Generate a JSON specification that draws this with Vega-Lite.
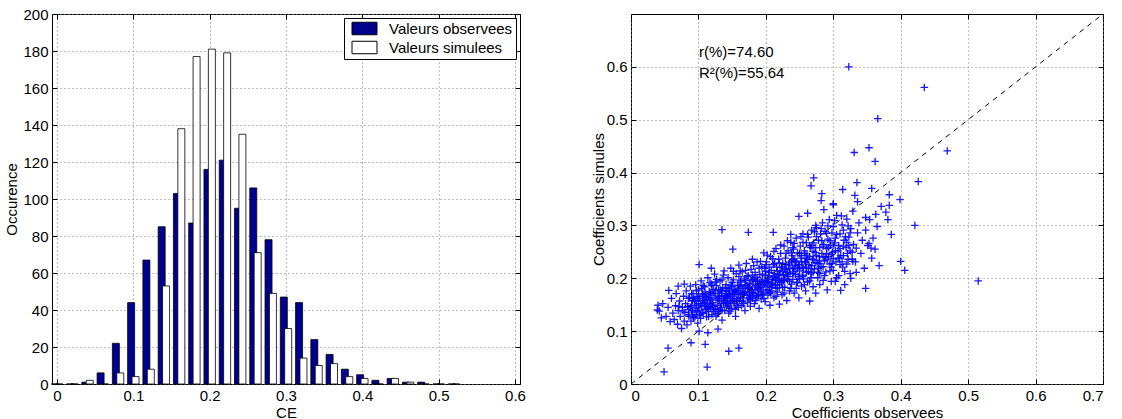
{
"$schema":"https://vega.github.io/schema/vega-lite/v6.json",
"padding":{"left":4,"top":6,"right":0,"bottom":0},
"autosize":{"type":"pad"},
"background":"white",
"spacing":64,
"config":{
"font":"Liberation Sans",
"view":{"stroke":"black","strokeWidth":1},
"axis":{"labelFontSize":15,"titleFontSize":15,"titleFontWeight":"normal","labelColor":"black","titleColor":"black","domain":false,"tickColor":"black","tickSize":-5,"gridColor":"#808080","gridDash":[1,3],"gridOpacity":1,"labelFont":"Liberation Sans","titleFont":"Liberation Sans"},
"axisX":{"labelPadding":9,"titlePadding":2},
"axisY":{"labelPadding":9,"titlePadding":3}
},
"datasets":{
"hist":[
{"ce":0.00,"serie":"Valeurs observees","count":0},{"ce":0.00,"serie":"Valeurs simulees","count":0},
{"ce":0.02,"serie":"Valeurs observees","count":0},{"ce":0.02,"serie":"Valeurs simulees","count":0},
{"ce":0.04,"serie":"Valeurs observees","count":1},{"ce":0.04,"serie":"Valeurs simulees","count":2},
{"ce":0.06,"serie":"Valeurs observees","count":6},{"ce":0.06,"serie":"Valeurs simulees","count":0},
{"ce":0.08,"serie":"Valeurs observees","count":22},{"ce":0.08,"serie":"Valeurs simulees","count":6},
{"ce":0.10,"serie":"Valeurs observees","count":44},{"ce":0.10,"serie":"Valeurs simulees","count":4},
{"ce":0.12,"serie":"Valeurs observees","count":67},{"ce":0.12,"serie":"Valeurs simulees","count":8},
{"ce":0.14,"serie":"Valeurs observees","count":85},{"ce":0.14,"serie":"Valeurs simulees","count":53},
{"ce":0.16,"serie":"Valeurs observees","count":103},{"ce":0.16,"serie":"Valeurs simulees","count":138},
{"ce":0.18,"serie":"Valeurs observees","count":87},{"ce":0.18,"serie":"Valeurs simulees","count":177},
{"ce":0.20,"serie":"Valeurs observees","count":116},{"ce":0.20,"serie":"Valeurs simulees","count":181},
{"ce":0.22,"serie":"Valeurs observees","count":121},{"ce":0.22,"serie":"Valeurs simulees","count":179},
{"ce":0.24,"serie":"Valeurs observees","count":95},{"ce":0.24,"serie":"Valeurs simulees","count":135},
{"ce":0.26,"serie":"Valeurs observees","count":106},{"ce":0.26,"serie":"Valeurs simulees","count":71},
{"ce":0.28,"serie":"Valeurs observees","count":78},{"ce":0.28,"serie":"Valeurs simulees","count":49},
{"ce":0.30,"serie":"Valeurs observees","count":47},{"ce":0.30,"serie":"Valeurs simulees","count":30},
{"ce":0.32,"serie":"Valeurs observees","count":44},{"ce":0.32,"serie":"Valeurs simulees","count":14},
{"ce":0.34,"serie":"Valeurs observees","count":24},{"ce":0.34,"serie":"Valeurs simulees","count":10},
{"ce":0.36,"serie":"Valeurs observees","count":16},{"ce":0.36,"serie":"Valeurs simulees","count":11},
{"ce":0.38,"serie":"Valeurs observees","count":8},{"ce":0.38,"serie":"Valeurs simulees","count":4},
{"ce":0.40,"serie":"Valeurs observees","count":5},{"ce":0.40,"serie":"Valeurs simulees","count":3},
{"ce":0.42,"serie":"Valeurs observees","count":2},{"ce":0.42,"serie":"Valeurs simulees","count":0},
{"ce":0.44,"serie":"Valeurs observees","count":3},{"ce":0.44,"serie":"Valeurs simulees","count":3},
{"ce":0.46,"serie":"Valeurs observees","count":1},{"ce":0.46,"serie":"Valeurs simulees","count":1},
{"ce":0.48,"serie":"Valeurs observees","count":1},{"ce":0.48,"serie":"Valeurs simulees","count":0},
{"ce":0.50,"serie":"Valeurs observees","count":0},{"ce":0.50,"serie":"Valeurs simulees","count":0},
{"ce":0.52,"serie":"Valeurs observees","count":0},{"ce":0.52,"serie":"Valeurs simulees","count":0}
],
"pts":[
{"obs":0.323,"sim":0.600},{"obs":0.435,"sim":0.561},{"obs":0.366,"sim":0.502},{"obs":0.331,"sim":0.438},{"obs":0.353,"sim":0.447},{"obs":0.362,"sim":0.421},{"obs":0.469,"sim":0.441},{"obs":0.426,"sim":0.383},{"obs":0.335,"sim":0.381},{"obs":0.357,"sim":0.370},{"obs":0.383,"sim":0.358},{"obs":0.399,"sim":0.349},{"obs":0.332,"sim":0.357},
{"obs":0.267,"sim":0.375},{"obs":0.271,"sim":0.390},{"obs":0.283,"sim":0.360},{"obs":0.282,"sim":0.347},{"obs":0.300,"sim":0.341},{"obs":0.314,"sim":0.368},{"obs":0.336,"sim":0.345},
{"obs":0.421,"sim":0.300},{"obs":0.386,"sim":0.283},{"obs":0.400,"sim":0.232},{"obs":0.406,"sim":0.215},{"obs":0.515,"sim":0.195},{"obs":0.348,"sim":0.181},{"obs":0.381,"sim":0.311},{"obs":0.378,"sim":0.325},{"obs":0.363,"sim":0.321},{"obs":0.348,"sim":0.315},{"obs":0.383,"sim":0.338},{"obs":0.371,"sim":0.336},{"obs":0.356,"sim":0.257},{"obs":0.353,"sim":0.266},{"obs":0.334,"sim":0.257},{"obs":0.329,"sim":0.232},{"obs":0.326,"sim":0.200},{"obs":0.334,"sim":0.211},
{"obs":0.049,"sim":0.023},{"obs":0.113,"sim":0.032},{"obs":0.055,"sim":0.068},{"obs":0.145,"sim":0.062},{"obs":0.160,"sim":0.068},{"obs":0.110,"sim":0.075},{"obs":0.089,"sim":0.078},{"obs":0.135,"sim":0.292},{"obs":0.174,"sim":0.287},{"obs":0.151,"sim":0.255},{"obs":0.101,"sim":0.100},{"obs":0.114,"sim":0.097},{"obs":0.129,"sim":0.104},{"obs":0.039,"sim":0.140},{"obs":0.045,"sim":0.125},{"obs":0.040,"sim":0.149},{"obs":0.056,"sim":0.177},{"obs":0.070,"sim":0.185},{"obs":0.079,"sim":0.189},{"obs":0.101,"sim":0.226},{"obs":0.119,"sim":0.219},{"obs":0.211,"sim":0.287},{"obs":0.237,"sim":0.283},{"obs":0.249,"sim":0.317},{"obs":0.262,"sim":0.323},{"obs":0.274,"sim":0.300},{"obs":0.286,"sim":0.330},{"obs":0.300,"sim":0.339},{"obs":0.311,"sim":0.177},{"obs":0.303,"sim":0.194},
{"obs":0.042,"sim":0.138},{"obs":0.047,"sim":0.152},{"obs":0.052,"sim":0.128},{"obs":0.055,"sim":0.145},{"obs":0.058,"sim":0.118},{"obs":0.060,"sim":0.162},{"obs":0.062,"sim":0.134},
{"obs":0.064,"sim":0.122},{"obs":0.066,"sim":0.148},{"obs":0.067,"sim":0.171},{"obs":0.069,"sim":0.113},{"obs":0.070,"sim":0.139},{"obs":0.072,"sim":0.157},{"obs":0.073,"sim":0.128},{"obs":0.075,"sim":0.105},{"obs":0.076,"sim":0.145},{"obs":0.078,"sim":0.166},{"obs":0.079,"sim":0.119},{"obs":0.080,"sim":0.135},
{"obs":0.081,"sim":0.152},{"obs":0.082,"sim":0.176},{"obs":0.083,"sim":0.112},{"obs":0.085,"sim":0.141},{"obs":0.086,"sim":0.128},{"obs":0.087,"sim":0.163},{"obs":0.088,"sim":0.185},{"obs":0.089,"sim":0.119},{"obs":0.090,"sim":0.148},{"obs":0.091,"sim":0.136},{"obs":0.092,"sim":0.171},{"obs":0.093,"sim":0.125},{"obs":0.094,"sim":0.157},{"obs":0.095,"sim":0.142},{"obs":0.096,"sim":0.188},{"obs":0.097,"sim":0.131},{"obs":0.098,"sim":0.165},{"obs":0.099,"sim":0.115},{"obs":0.100,"sim":0.152},{"obs":0.100,"sim":0.178},
{"obs":0.101,"sim":0.139},{"obs":0.102,"sim":0.162},{"obs":0.103,"sim":0.124},{"obs":0.104,"sim":0.195},{"obs":0.105,"sim":0.147},{"obs":0.106,"sim":0.171},{"obs":0.107,"sim":0.133},{"obs":0.108,"sim":0.158},{"obs":0.109,"sim":0.184},{"obs":0.110,"sim":0.141},{"obs":0.111,"sim":0.166},{"obs":0.112,"sim":0.127},{"obs":0.113,"sim":0.152},{"obs":0.114,"sim":0.201},{"obs":0.115,"sim":0.137},{"obs":0.116,"sim":0.175},{"obs":0.117,"sim":0.159},{"obs":0.118,"sim":0.145},{"obs":0.119,"sim":0.189},{"obs":0.120,"sim":0.131},{"obs":0.120,"sim":0.168},
{"obs":0.121,"sim":0.154},{"obs":0.122,"sim":0.179},{"obs":0.123,"sim":0.142},{"obs":0.124,"sim":0.208},{"obs":0.125,"sim":0.163},{"obs":0.126,"sim":0.128},{"obs":0.127,"sim":0.186},{"obs":0.128,"sim":0.149},{"obs":0.129,"sim":0.172},{"obs":0.130,"sim":0.137},{"obs":0.131,"sim":0.158},{"obs":0.132,"sim":0.195},{"obs":0.133,"sim":0.145},{"obs":0.134,"sim":0.167},{"obs":0.135,"sim":0.121},{"obs":0.136,"sim":0.182},{"obs":0.137,"sim":0.153},{"obs":0.138,"sim":0.214},{"obs":0.139,"sim":0.139},{"obs":0.140,"sim":0.171},{"obs":0.140,"sim":0.161},
{"obs":0.141,"sim":0.188},{"obs":0.142,"sim":0.148},{"obs":0.143,"sim":0.166},{"obs":0.144,"sim":0.201},{"obs":0.145,"sim":0.134},{"obs":0.146,"sim":0.176},{"obs":0.147,"sim":0.157},{"obs":0.148,"sim":0.219},{"obs":0.149,"sim":0.143},{"obs":0.150,"sim":0.184},{"obs":0.151,"sim":0.165},{"obs":0.152,"sim":0.197},{"obs":0.153,"sim":0.152},{"obs":0.154,"sim":0.173},{"obs":0.155,"sim":0.128},{"obs":0.156,"sim":0.209},{"obs":0.157,"sim":0.161},{"obs":0.158,"sim":0.187},{"obs":0.159,"sim":0.145},{"obs":0.160,"sim":0.177},{"obs":0.160,"sim":0.225},
{"obs":0.161,"sim":0.158},{"obs":0.162,"sim":0.193},{"obs":0.163,"sim":0.169},{"obs":0.164,"sim":0.148},{"obs":0.165,"sim":0.212},{"obs":0.166,"sim":0.181},{"obs":0.167,"sim":0.163},{"obs":0.168,"sim":0.199},{"obs":0.169,"sim":0.139},{"obs":0.170,"sim":0.174},{"obs":0.171,"sim":0.228},{"obs":0.172,"sim":0.186},{"obs":0.173,"sim":0.155},{"obs":0.174,"sim":0.205},{"obs":0.175,"sim":0.168},{"obs":0.176,"sim":0.191},{"obs":0.177,"sim":0.147},{"obs":0.178,"sim":0.217},{"obs":0.179,"sim":0.179},{"obs":0.180,"sim":0.162},{"obs":0.180,"sim":0.236},
{"obs":0.181,"sim":0.198},{"obs":0.182,"sim":0.171},{"obs":0.183,"sim":0.152},{"obs":0.184,"sim":0.211},{"obs":0.185,"sim":0.186},{"obs":0.186,"sim":0.165},{"obs":0.187,"sim":0.231},{"obs":0.188,"sim":0.194},{"obs":0.189,"sim":0.176},{"obs":0.190,"sim":0.143},{"obs":0.191,"sim":0.207},{"obs":0.192,"sim":0.183},{"obs":0.193,"sim":0.161},{"obs":0.194,"sim":0.222},{"obs":0.195,"sim":0.197},{"obs":0.196,"sim":0.172},{"obs":0.197,"sim":0.248},{"obs":0.198,"sim":0.189},{"obs":0.199,"sim":0.156},{"obs":0.200,"sim":0.213},{"obs":0.200,"sim":0.178},
{"obs":0.201,"sim":0.231},{"obs":0.202,"sim":0.194},{"obs":0.203,"sim":0.168},{"obs":0.204,"sim":0.205},{"obs":0.205,"sim":0.185},{"obs":0.206,"sim":0.149},{"obs":0.207,"sim":0.241},{"obs":0.208,"sim":0.215},{"obs":0.209,"sim":0.176},{"obs":0.210,"sim":0.198},{"obs":0.211,"sim":0.226},{"obs":0.212,"sim":0.163},{"obs":0.213,"sim":0.209},{"obs":0.214,"sim":0.187},{"obs":0.215,"sim":0.256},{"obs":0.216,"sim":0.221},{"obs":0.217,"sim":0.174},{"obs":0.218,"sim":0.199},{"obs":0.219,"sim":0.236},{"obs":0.220,"sim":0.182},{"obs":0.220,"sim":0.151},
{"obs":0.221,"sim":0.214},{"obs":0.222,"sim":0.247},{"obs":0.223,"sim":0.192},{"obs":0.224,"sim":0.169},{"obs":0.225,"sim":0.228},{"obs":0.226,"sim":0.205},{"obs":0.227,"sim":0.261},{"obs":0.228,"sim":0.183},{"obs":0.229,"sim":0.238},{"obs":0.230,"sim":0.216},{"obs":0.231,"sim":0.158},{"obs":0.232,"sim":0.197},{"obs":0.233,"sim":0.252},{"obs":0.234,"sim":0.225},{"obs":0.235,"sim":0.176},{"obs":0.236,"sim":0.209},{"obs":0.237,"sim":0.268},{"obs":0.238,"sim":0.189},{"obs":0.239,"sim":0.243},{"obs":0.240,"sim":0.221},{"obs":0.240,"sim":0.198},
{"obs":0.241,"sim":0.255},{"obs":0.242,"sim":0.172},{"obs":0.243,"sim":0.234},{"obs":0.244,"sim":0.207},{"obs":0.245,"sim":0.276},{"obs":0.246,"sim":0.192},{"obs":0.247,"sim":0.248},{"obs":0.248,"sim":0.226},{"obs":0.249,"sim":0.163},{"obs":0.250,"sim":0.214},{"obs":0.251,"sim":0.261},{"obs":0.252,"sim":0.238},{"obs":0.253,"sim":0.185},{"obs":0.254,"sim":0.221},{"obs":0.255,"sim":0.284},{"obs":0.256,"sim":0.199},{"obs":0.257,"sim":0.252},{"obs":0.258,"sim":0.232},{"obs":0.259,"sim":0.176},{"obs":0.260,"sim":0.267},{"obs":0.260,"sim":0.211},
{"obs":0.261,"sim":0.244},{"obs":0.262,"sim":0.193},{"obs":0.263,"sim":0.278},{"obs":0.264,"sim":0.226},{"obs":0.265,"sim":0.157},{"obs":0.266,"sim":0.258},{"obs":0.267,"sim":0.209},{"obs":0.268,"sim":0.291},{"obs":0.269,"sim":0.236},{"obs":0.270,"sim":0.184},{"obs":0.271,"sim":0.267},{"obs":0.272,"sim":0.218},{"obs":0.273,"sim":0.249},{"obs":0.274,"sim":0.172},{"obs":0.275,"sim":0.296},{"obs":0.276,"sim":0.229},{"obs":0.277,"sim":0.201},{"obs":0.278,"sim":0.272},{"obs":0.279,"sim":0.241},{"obs":0.280,"sim":0.188},{"obs":0.280,"sim":0.258},
{"obs":0.281,"sim":0.284},{"obs":0.282,"sim":0.221},{"obs":0.283,"sim":0.247},{"obs":0.284,"sim":0.305},{"obs":0.285,"sim":0.196},{"obs":0.286,"sim":0.264},{"obs":0.287,"sim":0.233},{"obs":0.288,"sim":0.289},{"obs":0.289,"sim":0.212},{"obs":0.290,"sim":0.256},{"obs":0.291,"sim":0.178},{"obs":0.292,"sim":0.274},{"obs":0.293,"sim":0.241},{"obs":0.294,"sim":0.311},{"obs":0.295,"sim":0.227},{"obs":0.296,"sim":0.262},{"obs":0.297,"sim":0.194},{"obs":0.298,"sim":0.286},{"obs":0.299,"sim":0.249},{"obs":0.300,"sim":0.215},{"obs":0.300,"sim":0.298},
{"obs":0.302,"sim":0.267},{"obs":0.304,"sim":0.231},{"obs":0.305,"sim":0.319},{"obs":0.307,"sim":0.252},{"obs":0.308,"sim":0.205},{"obs":0.310,"sim":0.284},{"obs":0.311,"sim":0.243},{"obs":0.313,"sim":0.301},{"obs":0.314,"sim":0.221},{"obs":0.316,"sim":0.272},{"obs":0.317,"sim":0.188},{"obs":0.319,"sim":0.258},{"obs":0.320,"sim":0.312},{"obs":0.322,"sim":0.236},{"obs":0.323,"sim":0.278},{"obs":0.325,"sim":0.209},{"obs":0.326,"sim":0.294},{"obs":0.328,"sim":0.249},{"obs":0.329,"sim":0.327},{"obs":0.330,"sim":0.264},
{"obs":0.333,"sim":0.231},{"obs":0.336,"sim":0.286},{"obs":0.338,"sim":0.305},{"obs":0.341,"sim":0.247},{"obs":0.343,"sim":0.272},{"obs":0.346,"sim":0.219},{"obs":0.348,"sim":0.291},{"obs":0.351,"sim":0.262},{"obs":0.354,"sim":0.311},{"obs":0.357,"sim":0.238},{"obs":0.359,"sim":0.276},{"obs":0.362,"sim":0.255},{"obs":0.365,"sim":0.298},{"obs":0.368,"sim":0.224},
{"obs":0.125,"sim":0.176},{"obs":0.131,"sim":0.166},{"obs":0.138,"sim":0.158},{"obs":0.144,"sim":0.181},{"obs":0.151,"sim":0.171},{"obs":0.157,"sim":0.176},{"obs":0.163,"sim":0.184},{"obs":0.169,"sim":0.188},{"obs":0.175,"sim":0.181},{"obs":0.181,"sim":0.189},{"obs":0.187,"sim":0.202},{"obs":0.193,"sim":0.194},{"obs":0.199,"sim":0.205},{"obs":0.205,"sim":0.211},{"obs":0.211,"sim":0.203},{"obs":0.217,"sim":0.214},{"obs":0.223,"sim":0.221},{"obs":0.229,"sim":0.207},{"obs":0.235,"sim":0.229},{"obs":0.241,"sim":0.236},{"obs":0.247,"sim":0.218},{"obs":0.253,"sim":0.243},{"obs":0.259,"sim":0.229},{"obs":0.265,"sim":0.241},{"obs":0.271,"sim":0.235},
{"obs":0.128,"sim":0.161},{"obs":0.134,"sim":0.152},{"obs":0.141,"sim":0.163},{"obs":0.147,"sim":0.169},{"obs":0.153,"sim":0.161},{"obs":0.159,"sim":0.169},{"obs":0.166,"sim":0.174},{"obs":0.172,"sim":0.168},{"obs":0.178,"sim":0.196},{"obs":0.184,"sim":0.179},{"obs":0.190,"sim":0.191},{"obs":0.196,"sim":0.186},{"obs":0.202,"sim":0.178},{"obs":0.208,"sim":0.191},{"obs":0.214,"sim":0.196},{"obs":0.220,"sim":0.208},{"obs":0.226,"sim":0.196},{"obs":0.232,"sim":0.211},{"obs":0.238,"sim":0.232},{"obs":0.244,"sim":0.224},{"obs":0.250,"sim":0.199},{"obs":0.256,"sim":0.219},{"obs":0.262,"sim":0.236},{"obs":0.268,"sim":0.224},{"obs":0.274,"sim":0.258},
{"obs":0.109,"sim":0.154},{"obs":0.116,"sim":0.147},{"obs":0.122,"sim":0.138},{"obs":0.118,"sim":0.172},{"obs":0.106,"sim":0.158},{"obs":0.097,"sim":0.149},{"obs":0.091,"sim":0.158},{"obs":0.084,"sim":0.147},{"obs":0.077,"sim":0.138},{"obs":0.071,"sim":0.147},{"obs":0.112,"sim":0.163},{"obs":0.135,"sim":0.175},{"obs":0.148,"sim":0.155},{"obs":0.162,"sim":0.164},{"obs":0.176,"sim":0.174},{"obs":0.189,"sim":0.168},{"obs":0.203,"sim":0.192},{"obs":0.215,"sim":0.181},{"obs":0.228,"sim":0.199},{"obs":0.241,"sim":0.212},{"obs":0.254,"sim":0.206},{"obs":0.267,"sim":0.218},{"obs":0.279,"sim":0.228},{"obs":0.285,"sim":0.241},{"obs":0.291,"sim":0.235},{"obs":0.297,"sim":0.245},{"obs":0.303,"sim":0.252},{"obs":0.309,"sim":0.238},{"obs":0.315,"sim":0.261},{"obs":0.321,"sim":0.247},
{"obs":0.085,"sim":0.131},{"obs":0.085,"sim":0.162},{"obs":0.090,"sim":0.171},{"obs":0.090,"sim":0.139},{"obs":0.095,"sim":0.127},{"obs":0.095,"sim":0.158},{"obs":0.100,"sim":0.144},{"obs":0.100,"sim":0.166},{"obs":0.105,"sim":0.181},{"obs":0.105,"sim":0.135},{"obs":0.110,"sim":0.149},{"obs":0.110,"sim":0.172},{"obs":0.115,"sim":0.128},{"obs":0.115,"sim":0.163},{"obs":0.120,"sim":0.186},{"obs":0.120,"sim":0.151},{"obs":0.125,"sim":0.141},{"obs":0.125,"sim":0.193},{"obs":0.130,"sim":0.162},{"obs":0.130,"sim":0.178},{"obs":0.135,"sim":0.139},{"obs":0.135,"sim":0.197},{"obs":0.140,"sim":0.155},{"obs":0.140,"sim":0.182},{"obs":0.145,"sim":0.168},{"obs":0.145,"sim":0.146},{"obs":0.150,"sim":0.192},{"obs":0.150,"sim":0.158},{"obs":0.155,"sim":0.175},{"obs":0.155,"sim":0.141},{"obs":0.160,"sim":0.203},{"obs":0.160,"sim":0.186},{"obs":0.165,"sim":0.157},{"obs":0.165,"sim":0.171},{"obs":0.170,"sim":0.195},{"obs":0.170,"sim":0.215},{"obs":0.175,"sim":0.161},{"obs":0.175,"sim":0.183},{"obs":0.180,"sim":0.206},{"obs":0.180,"sim":0.173},{"obs":0.185,"sim":0.158},{"obs":0.185,"sim":0.194},{"obs":0.190,"sim":0.219},{"obs":0.190,"sim":0.181},{"obs":0.195,"sim":0.169},{"obs":0.195,"sim":0.208},{"obs":0.200,"sim":0.195},{"obs":0.200,"sim":0.226},{"obs":0.205,"sim":0.174},{"obs":0.205,"sim":0.221},{"obs":0.210,"sim":0.188},{"obs":0.210,"sim":0.237},{"obs":0.215,"sim":0.201},{"obs":0.215,"sim":0.166},{"obs":0.220,"sim":0.229},{"obs":0.220,"sim":0.193},{"obs":0.225,"sim":0.212},{"obs":0.225,"sim":0.183},{"obs":0.230,"sim":0.247},{"obs":0.230,"sim":0.226},{"obs":0.235,"sim":0.194},{"obs":0.235,"sim":0.218},{"obs":0.240,"sim":0.258},{"obs":0.240,"sim":0.209},{"obs":0.245,"sim":0.231},{"obs":0.245,"sim":0.181},{"obs":0.250,"sim":0.247},{"obs":0.250,"sim":0.226},{"obs":0.255,"sim":0.203},{"obs":0.255,"sim":0.268},{"obs":0.260,"sim":0.238},{"obs":0.260,"sim":0.221},{"obs":0.265,"sim":0.262},{"obs":0.265,"sim":0.195},{"obs":0.270,"sim":0.211},{"obs":0.270,"sim":0.251},{"obs":0.275,"sim":0.243},{"obs":0.275,"sim":0.279},{"obs":0.280,"sim":0.209},{"obs":0.280,"sim":0.233},{"obs":0.285,"sim":0.261},{"obs":0.285,"sim":0.222},{"obs":0.290,"sim":0.246},{"obs":0.290,"sim":0.285},{"obs":0.295,"sim":0.214},{"obs":0.295,"sim":0.271},{"obs":0.300,"sim":0.237},{"obs":0.300,"sim":0.262},{"obs":0.305,"sim":0.283},{"obs":0.305,"sim":0.201},{"obs":0.310,"sim":0.256},{"obs":0.310,"sim":0.226},{"obs":0.315,"sim":0.291},{"obs":0.315,"sim":0.243},{"obs":0.320,"sim":0.227},{"obs":0.320,"sim":0.268},{"obs":0.325,"sim":0.252},{"obs":0.325,"sim":0.286},
{"obs":0.088,"sim":0.145},{"obs":0.093,"sim":0.162},{"obs":0.098,"sim":0.138},{"obs":0.103,"sim":0.152},{"obs":0.108,"sim":0.169},{"obs":0.113,"sim":0.144},{"obs":0.118,"sim":0.158},{"obs":0.123,"sim":0.171},{"obs":0.128,"sim":0.133},{"obs":0.133,"sim":0.178},{"obs":0.138,"sim":0.165},{"obs":0.143,"sim":0.152},{"obs":0.148,"sim":0.187},{"obs":0.153,"sim":0.179},{"obs":0.158,"sim":0.157},{"obs":0.163,"sim":0.196},{"obs":0.168,"sim":0.172},{"obs":0.173,"sim":0.181},{"obs":0.178,"sim":0.165},{"obs":0.183,"sim":0.201},{"obs":0.188,"sim":0.183},{"obs":0.193,"sim":0.174},{"obs":0.198,"sim":0.219},{"obs":0.203,"sim":0.201},{"obs":0.208,"sim":0.183},{"obs":0.213,"sim":0.228},{"obs":0.218,"sim":0.206},{"obs":0.223,"sim":0.196},{"obs":0.228,"sim":0.219},{"obs":0.233,"sim":0.203},{"obs":0.238,"sim":0.248},{"obs":0.243,"sim":0.219},{"obs":0.248,"sim":0.203},{"obs":0.253,"sim":0.231},{"obs":0.258,"sim":0.247},{"obs":0.263,"sim":0.213},{"obs":0.268,"sim":0.262},{"obs":0.273,"sim":0.229},{"obs":0.278,"sim":0.219},{"obs":0.283,"sim":0.271},{"obs":0.288,"sim":0.239},{"obs":0.293,"sim":0.258},{"obs":0.298,"sim":0.228},{"obs":0.303,"sim":0.276},{"obs":0.308,"sim":0.262},{"obs":0.313,"sim":0.231},{"obs":0.318,"sim":0.279},{"obs":0.323,"sim":0.262},{"obs":0.328,"sim":0.236},
{"obs":0.092,"sim":0.128},{"obs":0.097,"sim":0.176},{"obs":0.102,"sim":0.131},{"obs":0.107,"sim":0.186},{"obs":0.112,"sim":0.141},{"obs":0.117,"sim":0.192},{"obs":0.122,"sim":0.147},{"obs":0.127,"sim":0.198},{"obs":0.132,"sim":0.141},{"obs":0.137,"sim":0.206},{"obs":0.142,"sim":0.176},{"obs":0.147,"sim":0.138},{"obs":0.152,"sim":0.213},{"obs":0.157,"sim":0.149},{"obs":0.162,"sim":0.214},{"obs":0.167,"sim":0.152},{"obs":0.172,"sim":0.203},{"obs":0.177,"sim":0.159},{"obs":0.182,"sim":0.224},{"obs":0.187,"sim":0.167},{"obs":0.192,"sim":0.232},{"obs":0.197,"sim":0.162},{"obs":0.202,"sim":0.244},{"obs":0.207,"sim":0.172},{"obs":0.212,"sim":0.251},{"obs":0.217,"sim":0.188},{"obs":0.222,"sim":0.263},{"obs":0.227,"sim":0.172},{"obs":0.232,"sim":0.271},{"obs":0.237,"sim":0.181},{"obs":0.242,"sim":0.266},{"obs":0.247,"sim":0.192},{"obs":0.252,"sim":0.279},{"obs":0.257,"sim":0.188},{"obs":0.262,"sim":0.283},{"obs":0.267,"sim":0.201},{"obs":0.272,"sim":0.288},{"obs":0.277,"sim":0.211},{"obs":0.282,"sim":0.294},{"obs":0.287,"sim":0.205},{"obs":0.292,"sim":0.299},{"obs":0.297,"sim":0.221},{"obs":0.302,"sim":0.309},{"obs":0.307,"sim":0.238},{"obs":0.312,"sim":0.318},{"obs":0.317,"sim":0.213},{"obs":0.322,"sim":0.299}
]
},
"hconcat":[
{
"width":468,"height":370,
"data":{"name":"hist"},
"layer":[
{"transform":[{"filter":"datum.serie == 'Valeurs observees'"}],
"mark":{"type":"bar","width":7,"xOffset":-2.2,"stroke":"black","strokeWidth":0.8},
"encoding":{
"x":{"field":"ce","type":"quantitative","scale":{"domain":[0,0.6],"nice":false},"axis":{"title":"CE","values":[0,0.1,0.2,0.3,0.4,0.5,0.6],"format":"~g","grid":true}},
"y":{"field":"count","type":"quantitative","scale":{"domain":[0,200],"nice":false},"axis":{"title":"Occurence","values":[0,20,40,60,80,100,120,140,160,180,200],"grid":true}},
"fill":{"field":"serie","type":"nominal","scale":{"domain":["Valeurs observees","Valeurs simulees"],"range":["#00008F","#FFFFFF"]},
"legend":{"title":null,"orient":"none","legendX":292,"legendY":4,"fillColor":"white","strokeColor":"black","padding":3,"symbolType":"M-2,-1H2V1H-2Z","symbolSize":156,"symbolStrokeColor":"black","symbolStrokeWidth":1,"labelFontSize":15,"labelColor":"black","labelOffset":17,"symbolOffset":10,"rowPadding":2}}
}},
{"transform":[{"filter":"datum.serie == 'Valeurs simulees'"}],
"mark":{"type":"bar","width":7,"xOffset":2.2,"stroke":"black","strokeWidth":0.8},
"encoding":{
"x":{"field":"ce","type":"quantitative","axis":{"orient":"top","title":null,"labels":false,"grid":false,"values":[0,0.1,0.2,0.3,0.4,0.5,0.6]}},
"y":{"field":"count","type":"quantitative","axis":{"orient":"right","title":null,"labels":false,"grid":false,"values":[0,20,40,60,80,100,120,140,160,180,200]}},
"fill":{"field":"serie","type":"nominal"}
}}
],
"resolve":{"axis":{"x":"independent","y":"independent"}}
},
{
"width":472,"height":370,
"layer":[
{"data":{"name":"pts"},
"mark":{"type":"point","shape":"M-1,0H1M0,-1V1","size":56,"filled":false,"stroke":"#0000FF","strokeWidth":1.3,"opacity":0.9},
"encoding":{
"x":{"field":"obs","type":"quantitative","scale":{"domain":[0,0.7],"nice":false},"axis":{"title":"Coefficients observees","values":[0,0.1,0.2,0.3,0.4,0.5,0.6,0.7],"format":"~g","grid":true}},
"y":{"field":"sim","type":"quantitative","scale":{"domain":[0,0.7],"nice":false},"axis":{"title":"Coefficients simules","titlePadding":0,"values":[0,0.1,0.2,0.3,0.4,0.5,0.6],"format":"~g","grid":true}}
}},
{"data":{"values":[{"x1":0,"y1":0,"x2":0.7,"y2":0.7}]},
"mark":{"type":"rule","stroke":"black","strokeDash":[5,5],"strokeWidth":1},
"encoding":{
"x":{"field":"x1","type":"quantitative","axis":{"orient":"top","title":null,"labels":false,"grid":false,"values":[0,0.1,0.2,0.3,0.4,0.5,0.6,0.7]}},
"y":{"field":"y1","type":"quantitative","axis":{"orient":"right","title":null,"labels":false,"grid":false,"values":[0,0.1,0.2,0.3,0.4,0.5,0.6,0.7]}},
"x2":{"field":"x2"},
"y2":{"field":"y2"}
}},
{"data":{"values":[{"x":0.1008,"y":0.628,"t":"r(%)=74.60"},{"x":0.1008,"y":0.589,"t":"R²(%)=55.64"}]},
"mark":{"type":"text","align":"left","baseline":"middle","fontSize":15,"color":"black","font":"Liberation Sans"},
"encoding":{
"x":{"field":"x","type":"quantitative","axis":null},
"y":{"field":"y","type":"quantitative","axis":null},
"text":{"field":"t"}
}}
],
"resolve":{"axis":{"x":"independent","y":"independent"}}
}
]
}
